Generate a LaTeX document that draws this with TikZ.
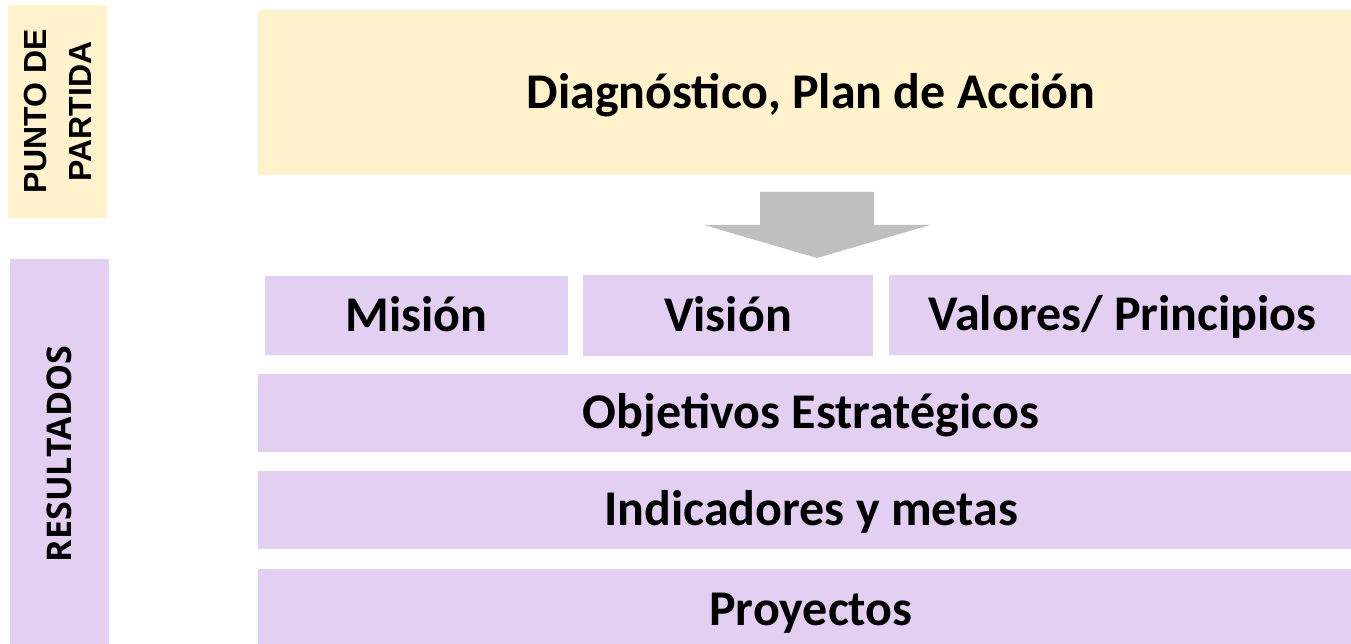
\documentclass[tikz,border=0pt]{standalone}
\usepackage{fontspec}
\setmainfont{Carlito}
\newfontfamily\puntofont{Liberation Sans}
\newfontfamily\resfont{Open Sans}
\definecolor{ylw}{HTML}{FFF2CC}
\definecolor{lav}{HTML}{E2CFF1}
\definecolor{arrgray}{HTML}{BFBFBF}
\tikzset{
  basebox/.style={inner sep=0pt, outer sep=0pt, text=black},
  ybox/.style={basebox, fill=ylw},
  pbox/.style={basebox, fill=lav},
  mainlabel/.style={font=\bfseries\fontsize{50}{56}\selectfont, text height=31.6pt, text depth=0pt},
  sidelabel/.style={rotate=90, align=center, text=black},
  blockarrow/.style={fill=arrgray, draw=none}
}
\begin{document}
\begin{tikzpicture}[x=1pt,y=-1pt]
\useasboundingbox (0,0) rectangle (1351,644);
% side labels
\node[ybox, minimum width=99pt, minimum height=213pt] (punto) at (57.5,111.5) {};
\node[sidelabel, font=\puntofont\bfseries\fontsize{32}{45}\selectfont] (puntotxt) at (punto.center) {PUNTO DE\\PARTIDA};
\node[pbox, minimum width=99pt, minimum height=385pt] (result) at (59.5,451.5) {};
\node[sidelabel, font=\resfont\bfseries\fontsize{34}{40}\selectfont] (resulttxt) at (59.5,454) {RESULTADOS};
% starting point
\node[ybox, mainlabel, minimum width=1106pt, minimum height=165pt] (diag) at (811,92.5) {Diagnóstico, Plan de Acción};
% arrow
\coordinate (atop) at (817,192);
\fill[blockarrow] (atop) ++(-57,0) -- ++(114,0) -- ++(0,33) -- ++(56,0) -- (817,258) coordinate (atip) -- ++(-113,-33) -- ++(56,0) -- cycle;
% results
\node[pbox, mainlabel, minimum width=303pt, minimum height=79pt] (mision) at (416.5,315.5) {Misión};
\node[pbox, mainlabel, minimum width=290pt, minimum height=81pt] (vision) at (728,315.5) {Visión};
\node[pbox, mainlabel, minimum width=467pt, minimum height=80pt] (valores) at (1122.5,315) {Valores/ Principios};
\node[pbox, mainlabel, minimum width=1106pt, minimum height=78pt] (obj) at (811,413) {Objetivos Estratégicos};
\node[pbox, mainlabel, minimum width=1106pt, minimum height=78pt] (ind) at (811,510) {Indicadores y metas};
\node[pbox, mainlabel, minimum width=1106pt, minimum height=82pt] (proy) at (811,610) {Proyectos};
\end{tikzpicture}
\end{document}
